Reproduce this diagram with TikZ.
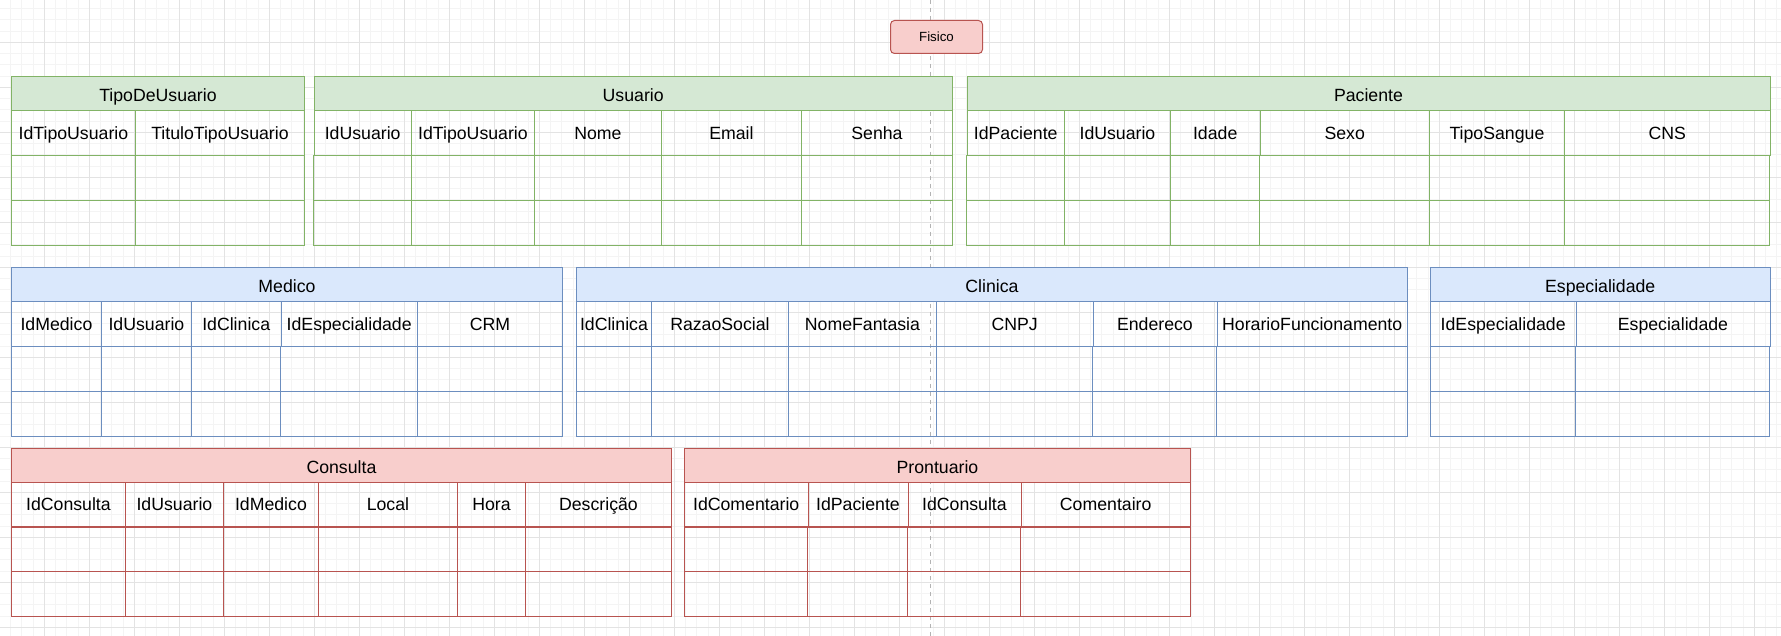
\documentclass[tikz,border=0pt]{standalone}
\usepackage{fontspec}
\setmainfont{Liberation Sans}
\usetikzlibrary{positioning}

\definecolor{grnfill}{HTML}{D5E8D4}
\definecolor{grnline}{HTML}{82B366}
\definecolor{blufill}{HTML}{DAE8FC}
\definecolor{bluline}{HTML}{6C8EBF}
\definecolor{redfill}{HTML}{F8CECC}
\definecolor{redline}{HTML}{B85450}
\definecolor{gridminor}{HTML}{F4F4F4}
\definecolor{gridmajor}{HTML}{E3E3E3}
\definecolor{guide}{HTML}{B3B3B3}

% #1 name, #2 colour prefix, #3 left x, #4 right x, #5 top y, #6 title, #7 columns x0/x1/label
\newcommand{\dbtable}[7]{%
  \node[tblhead, draw=#2line, fill=#2fill, minimum width={#4-#3}] (#1) at (#3,#5) {#6};
  \foreach \xa/\xb/\lab in {#7} {
    \node[tblfield, draw=#2line, minimum width={\xb-\xa}] (#1-\lab) at (\xa,#5+34) {\lab};
    \draw[tblline, draw=#2line] (\xa,#5+79) rectangle (\xb,#5+124) (\xa,#5+124) rectangle (\xb,#5+169);
  }
}

\begin{document}
\begin{tikzpicture}[
    x=1pt, y=-1pt,
    font=\fontsize{17.7}{20}\selectfont,
    tblline/.style={line width=0.9pt},
    tblhead/.style={tblline, anchor=north west, inner sep=0pt, minimum height=34,
      text height=16.7pt, text depth=0pt},
    tblfield/.style={tblline, anchor=north west, inner sep=0pt, minimum height=45,
      text height=12.7pt, text depth=0pt},
    fisico/.style={draw=redline, fill=redfill, line width=1pt, rounded corners=4pt,
      minimum width=92, minimum height=33, font=\fontsize{13.3}{15}\selectfont}
  ]
    \useasboundingbox (0,0) rectangle (1781,636);
    \fill[white] (0,0) rectangle (1781,636);

    % background grid
    \foreach \i in {0,...,157} \draw[gridminor, line width=0.8pt] (10.55+11.25*\i,0) -- ++(0,636);
    \foreach \j in {0,...,56} \draw[gridminor, line width=0.8pt] (0,8.55+11.25*\j) -- ++(1781,0);
    \foreach \i in {0,...,39} \draw[gridmajor, line width=0.9pt] (44.3+45*\i,0) -- ++(0,636);
    \foreach \j in {0,...,13} \draw[gridmajor, line width=0.9pt] (0,42.3+45*\j) -- ++(1781,0);
    \draw[guide, line width=0.9pt, dash pattern=on 4pt off 4pt] (930,0) -- (930,636);

    \node[fisico] (fisico) at (936.5,37) {Fisico};

    % green row
    \dbtable{tipodeusuario}{grn}{11}{304}{76}{TipoDeUsuario}
      {11/135/IdTipoUsuario, 135/304/TituloTipoUsuario}
    \dbtable{usuario}{grn}{313.5}{952}{76}{Usuario}
      {313.5/411/IdUsuario, 411/534/IdTipoUsuario, 534/661/Nome, 661/801/Email, 801/952/Senha}
    \dbtable{paciente}{grn}{966.5}{1769.5}{76}{Paciente}
      {966.5/1064/IdPaciente, 1064/1170/IdUsuario, 1170/1259.5/Idade, 1259.5/1429/Sexo,
       1429/1564/TipoSangue, 1564/1769.5/CNS}

    % blue row
    \dbtable{medico}{blu}{11}{562}{267}{Medico}
      {11/101/IdMedico, 101/191/IdUsuario, 191/280.5/IdClinica, 280.5/417/IdEspecialidade, 417/562/CRM}
    \dbtable{clinica}{blu}{576}{1407}{267}{Clinica}
      {576/651/IdClinica, 651/788/RazaoSocial, 788/936/NomeFantasia, 936/1092.5/CNPJ,
       1092.5/1216.5/Endereco, 1216.5/1407/HorarioFuncionamento}
    \dbtable{especialidade}{blu}{1430}{1769.5}{267}{Especialidade}
      {1430/1575.5/IdEspecialidade, 1575.5/1769.5/Especialidade}

    % red row
    \dbtable{consulta}{red}{11}{671}{447.5}{Consulta}
      {11/125/IdConsulta, 125/223/IdUsuario, 223/318/IdMedico, 318/457/Local, 457/525/Hora, 525/671/Descrição}
    \dbtable{prontuario}{red}{684}{1190}{447.5}{Prontuario}
      {684/807.5/IdComentario, 807.5/907.5/IdPaciente, 907.5/1020.5/IdConsulta, 1020.5/1190/Comentairo}
  \end{tikzpicture}
\end{document}
